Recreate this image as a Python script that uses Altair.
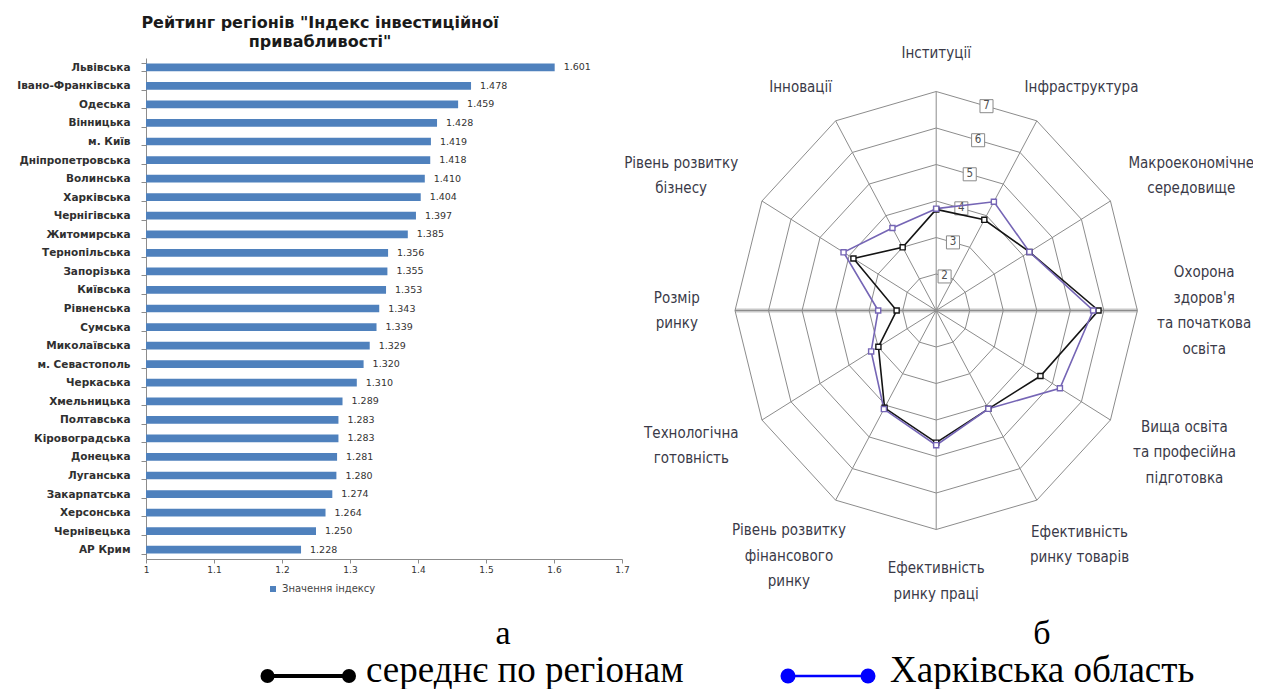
import math
import altair as alt
import pandas as pd

# ------------------------------------------------------------------ data
regions = ["Львівська", "Івано-Франківська", "Одеська", "Вінницька", "м. Київ",
           "Дніпропетровська", "Волинська", "Харківська", "Чернігівська",
           "Житомирська", "Тернопільська", "Запорізька", "Київська", "Рівненська",
           "Сумська", "Миколаївська", "м. Севастополь", "Черкаська", "Хмельницька",
           "Полтавська", "Кіровоградська", "Донецька", "Луганська", "Закарпатська",
           "Херсонська", "Чернівецька", "АР Крим"]
index_values = [1.601, 1.478, 1.459, 1.428, 1.419, 1.418, 1.410, 1.404, 1.397,
                1.385, 1.356, 1.355, 1.353, 1.343, 1.339, 1.329, 1.320, 1.310,
                1.289, 1.283, 1.283, 1.281, 1.280, 1.274, 1.264, 1.250, 1.228]
x_tick_values = [1, 1.1, 1.2, 1.3, 1.4, 1.5, 1.6, 1.7]
bar_series_name = "Значення індексу"
bar_title_lines = ['Рейтинг регіонів "Індекс інвестиційної', 'привабливості"']

pillars = ["Інституції",
           "Інфраструктура",
           "Макроекономічне\nсередовище",
           "Охорона\nздоров'я\nта початкова\nосвіта",
           "Вища освіта\nта професійна\nпідготовка",
           "Ефективність\nринку товарів",
           "Ефективність\nринку праці",
           "Рівень розвитку\nфінансового\nринку",
           "Технологічна\nготовність",
           "Розмір\nринку",
           "Рівень розвитку\nбізнесу",
           "Інновації"]
avg_scores = [3.77, 3.87, 4.21, 5.84, 4.59, 4.11, 4.62, 4.08, 2.99, 2.18, 3.85, 3.00]
kharkiv_scores = [3.79, 4.44, 4.21, 5.68, 5.26, 4.11, 4.69, 4.12, 3.24, 2.73, 4.19, 3.61]
series_names = ["середнє по регіонам", "Харківська область"]
ring_levels = [2, 3, 4, 5, 6, 7]
radar_min = 1
panel_captions = ["а", "б"]

# ------------------------------------------------------------------ layout / style
W_TOTAL, H_TOTAL = 1245, 681
PAD_L, PAD_T, PAD_R = 138, 50, 0
PLOT_W = W_TOTAL - PAD_L - PAD_R
PLOT_H = 501
PAD_B = H_TOTAL - PAD_T - PLOT_H

SANS = "DejaVu Sans"
NARROW = "Liberation Sans Narrow, DejaVu Sans Condensed, sans-serif"
SERIF = "Liberation Serif, Times New Roman, serif"
GRID = "#8c8c8c"
BAR_BLUE = "#4F81BD"
SER_COLORS = ["#141414", "#7565b5"]

# ------------------------------------------------------------------ bar chart (а)
bar_df = pd.DataFrame({"region": regions, "value": index_values})
bar_df["series"] = bar_series_name

x_bar = alt.X("value:Q",
              scale=alt.Scale(domain=[x_tick_values[0], x_tick_values[-1]],
                              range=[0, 476], nice=False, zero=False),
              axis=alt.Axis(values=x_tick_values, format="~g", title=None, grid=False,
                            domainColor=GRID, tickColor=GRID, tickSize=4,
                            labelFont=SANS, labelFontSize=9, labelColor="#333333",
                            labelPadding=2, labelFlush=False))
y_bar = alt.Y("region:N", sort=regions,
              scale=alt.Scale(paddingInner=0.585, paddingOuter=0.2925),
              axis=alt.Axis(title=None, tickBand="extent", domainColor=GRID,
                            tickColor=GRID, tickSize=5, labelPadding=11,
                            labelFont=SANS, labelFontSize=10.5, labelFontWeight="bold",
                            labelColor="#303030", labelLimit=300, grid=False))

bars = alt.Chart(bar_df).mark_bar().encode(
    x=x_bar, x2=alt.datum(x_tick_values[0]), y=y_bar,
    color=alt.Color("series:N", scale=alt.Scale(range=[BAR_BLUE]),
                    legend=alt.Legend(orient="none", legendX=122, legendY=526, title=None,
                                      symbolType="square", symbolSize=36,
                                      symbolStrokeWidth=0, labelFont=SANS,
                                      labelFontSize=10, labelColor="#444444",
                                      padding=0, labelOffset=4)))
bar_labels = alt.Chart(bar_df).mark_text(
    align="left", baseline="middle", dx=9, font=SANS, fontSize=9.5, color="#333333"
).encode(x=x_bar, y=y_bar, text=alt.Text("value:Q", format=".3f"))

one = pd.DataFrame({"i": [0]})
bar_title = alt.Chart(one).mark_text(
    text=bar_title_lines, font=SANS, fontSize=16, fontWeight="bold", lineHeight=19,
    align="center", baseline="alphabetic", color="#1a1a1a"
).encode(x=alt.value(174), y=alt.value(-30))

bar_layer = alt.layer(bars, bar_labels)

# ------------------------------------------------------------------ radar chart (б)
N = len(pillars)
RMAX = max(ring_levels) - radar_min
CX, CY = 790.2, 252.5
RX_PX, RY_PX = 201.2, 219.0
rscale_x = alt.Scale(domain=[-RMAX, RMAX], range=[CX - RX_PX, CX + RX_PX], nice=False, zero=False)
rscale_y = alt.Scale(domain=[-RMAX, RMAX], range=[CY + RY_PX, CY - RY_PX], nice=False, zero=False)
ANG = f"(datum.k * 2 * PI / {N})"


def rx(f):
    return alt.X(f, type="quantitative", scale=rscale_x, axis=None)


def ry(f):
    return alt.Y(f, type="quantitative", scale=rscale_y, axis=None)


ring_df = pd.DataFrame([{"ring": v, "k": k} for v in ring_levels for k in range(N + 1)])
rings = alt.Chart(ring_df).transform_calculate(
    gx=f"(datum.ring - {radar_min}) * sin({ANG})",
    gy=f"(datum.ring - {radar_min}) * cos({ANG})"
).mark_line(color=GRID, strokeWidth=1).encode(
    x=rx("gx"), y=ry("gy"), detail="ring:N", order="k:Q")

spoke_df = pd.DataFrame({"k": list(range(N))})
spokes = alt.Chart(spoke_df).transform_calculate(
    sx=f"{RMAX} * sin({ANG})", sy=f"{RMAX} * cos({ANG})", ox="0", oy="0"
).mark_rule(color=GRID, strokeWidth=1).encode(
    x=rx("ox"), y=ry("oy"), x2="sx:Q", y2="sy:Q")

hline = alt.Chart(one).transform_calculate(
    a=f"-{RMAX}", b=f"{RMAX}", z="0"
).mark_rule(color="#c8c8c8", strokeWidth=4).encode(x=rx("a"), x2="b:Q", y=ry("z"))

ring_lab_df = pd.DataFrame({"ring": ring_levels})
ring_calc = dict(
    lx=f"(datum.ring - {radar_min}) * sin(2 * PI / {N}) / 2",
    ly=f"(datum.ring - {radar_min}) * (1 + cos(2 * PI / {N})) / 2")
ring_boxes = alt.Chart(ring_lab_df).transform_calculate(**ring_calc).mark_point(
    shape="square", size=170, filled=True, fill="white", stroke="#8a8a8a",
    strokeWidth=1, opacity=1).encode(x=rx("lx"), y=ry("ly"))
ring_texts = alt.Chart(ring_lab_df).transform_calculate(**ring_calc).mark_text(
    font=NARROW, fontSize=11.5, color="#505050", baseline="middle", align="center"
).encode(x=rx("lx"), y=ry("ly"), text="ring:N")

rows = []
for name, scores in zip(series_names, [avg_scores, kharkiv_scores]):
    for k in range(N + 1):
        rows.append({"series": name, "k": k, "score": scores[k % N]})
series_df = pd.DataFrame(rows)
ser_calc = dict(px=f"(datum.score - {radar_min}) * sin({ANG})",
                py=f"(datum.score - {radar_min}) * cos({ANG})")
ser_scale = alt.Scale(domain=series_names, range=SER_COLORS)

ser_lines = alt.Chart(series_df).transform_calculate(**ser_calc).mark_line(
    strokeWidth=1.6).encode(
    x=rx("px"), y=ry("py"),
    color=alt.Color("series:N", scale=ser_scale, legend=None),
    detail="series:N", order="k:Q")
ser_points = alt.Chart(series_df).transform_filter(f"datum.k < {N}").transform_calculate(
    **ser_calc).mark_point(shape="square", filled=True, fill="white", size=26,
                           strokeWidth=1.4, opacity=1).encode(
    x=rx("px"), y=ry("py"),
    stroke=alt.Stroke("series:N", scale=ser_scale, legend=None))

# pillar labels: centred outside the outer ring, pushed out by their own text size,
# kept inside the canvas on the right.
LAB_FONT = 15
CHAR_W, LINE_H, GLYPH_H = 7.8, 25.5, 15.0
LAB_RX, LAB_RY = 236.0, 250.0
RIGHT_LIMIT = (PLOT_W - 2) - CX          # px from the centre to the canvas edge
ux, uy = RX_PX / RMAX, RY_PX / RMAX
lab_rows = []
for k, lab in enumerate(pillars):
    lines = lab.split("\n")
    hw = max(len(s) for s in lines) * CHAR_W / 2
    hh = ((len(lines) - 1) * LINE_H + GLYPH_H) / 2
    a = 2 * math.pi * k / N
    cx_px = (LAB_RX + hw) * math.sin(a)
    cx_px = min(cx_px, RIGHT_LIMIT - hw)
    cy_px = (LAB_RY + hh) * math.cos(a)
    first_line_px = cy_px + (len(lines) - 1) * LINE_H / 2   # text starts at its first line
    lab_rows.append({"label": lab, "lx": cx_px / ux, "ly": first_line_px / uy})
lab_df = pd.DataFrame(lab_rows)
pillar_labels = alt.Chart(lab_df).mark_text(
    font=NARROW, fontSize=LAB_FONT, lineBreak="\n", lineHeight=LINE_H,
    baseline="middle", align="center", color="#3a3a48"
).encode(x=rx("lx"), y=ry("ly"), text="label:N")

radar_layer = alt.layer(hline, rings, spokes, ring_boxes, ring_texts,
                        ser_lines, ser_points, pillar_labels)

# ------------------------------------------------------------------ captions & bottom legend


def caption(txt, x, y, align="center", size=36):
    return alt.Chart(one).mark_text(
        text=txt, font=SERIF, fontSize=size, align=align, baseline="alphabetic",
        color="black").encode(x=alt.value(x), y=alt.value(y))


def leg_line(x1, x2, y, color, w):
    return alt.Chart(one).mark_rule(color=color, strokeWidth=w).encode(
        x=alt.value(x1), x2=alt.value(x2), y=alt.value(y))


def leg_dot(x, y, color, d):
    return alt.Chart(one).mark_point(shape="circle", filled=True, color=color,
                                     size=d * d, opacity=1).encode(
        x=alt.value(x), y=alt.value(y))


LEG_Y, LEG_BASE = 618, 624
CAP_BASE = 586
annotations = [
    bar_title,
    caption(panel_captions[0], 357, CAP_BASE, size=34),
    caption(panel_captions[1], 896, CAP_BASE, size=34),
    leg_line(121.5, 203, LEG_Y, "black", 4),
    leg_dot(121.5, LEG_Y, "black", 14),
    leg_dot(203, LEG_Y, "black", 14),
    caption(series_names[0], 220, LEG_BASE, align="left", size=37),
    leg_line(642, 722, LEG_Y, "#0000ff", 2.5),
    leg_dot(642, LEG_Y, "#0000ff", 15),
    leg_dot(722, LEG_Y, "#0000ff", 15),
    caption(series_names[1], 744, LEG_BASE, align="left", size=37),
]

chart = alt.layer(bar_layer, radar_layer, *annotations).resolve_scale(
    x="independent", y="independent", color="independent", stroke="independent"
).properties(
    width=PLOT_W, height=PLOT_H,
    padding={"left": PAD_L, "top": PAD_T, "right": PAD_R, "bottom": PAD_B},
    autosize=alt.AutoSizeParams(type="none"),
    background="white",
).configure_view(stroke=None)

chart.save("out.html", embed_options={"renderer": "svg", "actions": False})
